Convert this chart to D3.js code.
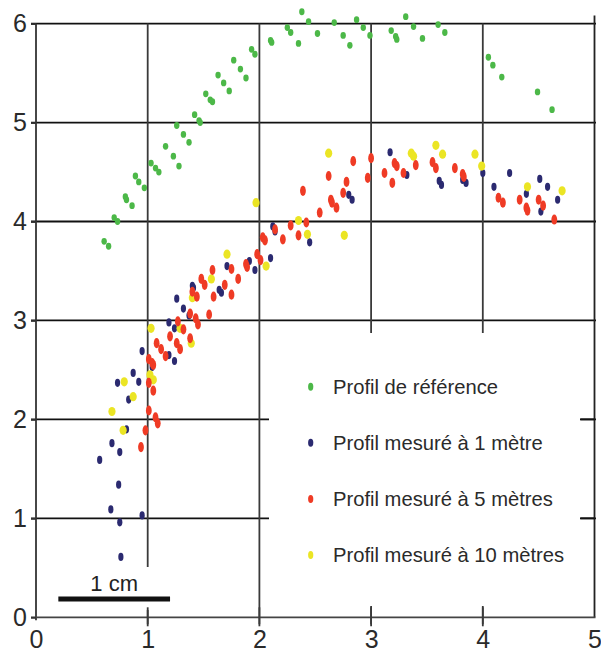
<!DOCTYPE html>
<html>
<head>
<meta charset="utf-8">
<script src="https://cdn.jsdelivr.net/npm/d3@7"></script>
<style>
  html, body { margin: 0; padding: 0; background: #fff; }
  svg { display: block; }
  text { font-family: "Liberation Sans", Arial, sans-serif; }
</style>
</head>
<body>
<svg id="chart" width="601" height="653"></svg>
<script>
// ---------- data ----------
const xTicks = [0, 1, 2, 3, 4, 5];
const yTicks = [0, 1, 2, 3, 4, 5, 6];

const seriesNames = [
  "Profil de référence",
  "Profil mesuré à 1 mètre",
  "Profil mesuré à 5 mètres",
  "Profil mesuré à 10 mètres"
];

const refProfile = [
  [0.61,3.80],[0.65,3.75],[0.70,4.04],[0.73,4.00],[0.80,4.25],[0.81,4.22],[0.86,4.16],
  [0.89,4.46],[0.92,4.40],[0.97,4.34],[1.03,4.59],[1.07,4.54],[1.10,4.50],[1.16,4.76],
  [1.23,4.66],[1.28,4.56],[1.26,4.97],[1.32,4.88],[1.37,4.80],[1.42,5.08],[1.46,5.02],
  [1.47,5.00],[1.52,5.29],[1.56,5.23],[1.58,5.21],[1.63,5.48],[1.68,5.40],[1.73,5.32],
  [1.77,5.63],[1.83,5.54],[1.88,5.45],[1.93,5.74],[1.96,5.69],[2.10,5.83],[2.11,5.81],
  [2.25,5.96],[2.28,5.91],[2.35,5.80],[2.38,6.12],[2.44,6.02],[2.52,5.90],[2.67,6.01],
  [2.75,5.88],[2.81,5.78],[2.87,6.04],[2.93,5.96],[2.99,5.88],[3.18,5.93],[3.22,5.87],
  [3.23,5.84],[3.31,6.07],[3.38,5.97],[3.46,5.85],[3.60,5.99],[3.66,5.91],[4.05,5.66],
  [4.09,5.58],[4.17,5.46],[4.49,5.31],[4.62,5.13]
];

const profile1m = [
  [0.76,0.61],[0.75,0.96],[0.95,1.03],[0.67,1.09],[0.74,1.34],[0.57,1.59],[0.75,1.67],
  [0.68,1.76],[0.81,1.90],[0.83,2.20],[0.73,2.37],[0.92,2.38],[0.87,2.47],[1.04,2.53],
  [0.95,2.69],[1.19,2.65],[1.24,2.59],[1.19,2.98],[1.24,2.92],[1.26,3.22],[1.32,3.12],
  [1.37,3.05],[1.40,3.35],[1.41,3.33],[1.64,3.31],[1.66,3.28],[1.71,3.55],[1.91,3.60],
  [1.96,3.51],[2.10,3.63],[2.12,3.95],[2.14,3.90],[2.45,3.79],[2.80,4.27],[2.83,4.22],
  [3.17,4.70],[3.32,4.47],[3.61,4.41],[3.63,4.37],[3.82,4.42],[3.85,4.39],[4.00,4.49],
  [4.10,4.35],[4.24,4.49],[4.39,4.28],[4.51,4.43],[4.58,4.35],[4.52,4.10],[4.67,4.22]
];

const profile5m = [
  [0.94,1.72],[0.98,1.89],[1.01,2.09],[1.07,2.02],[1.09,1.96],[1.01,2.37],[1.05,2.29],
  [1.01,2.61],[1.04,2.57],[1.05,2.55],[1.08,2.77],[1.12,2.71],[1.16,2.64],[1.20,2.84],
  [1.26,2.77],[1.29,2.71],[1.38,2.82],[1.27,2.99],[1.32,2.91],[1.38,3.07],[1.43,3.02],
  [1.45,2.96],[1.55,3.06],[1.40,3.29],[1.44,3.24],[1.48,3.42],[1.51,3.36],[1.59,3.24],
  [1.58,3.51],[1.69,3.36],[1.75,3.26],[1.75,3.52],[1.81,3.42],[1.88,3.57],[1.89,3.54],
  [1.98,3.67],[2.01,3.61],[2.03,3.84],[2.05,3.81],[2.21,3.82],[2.14,3.92],[2.28,3.96],
  [2.35,3.86],[2.39,4.31],[2.42,3.99],[2.54,4.09],[2.62,4.46],[2.64,4.22],[2.65,4.19],
  [2.69,4.14],[2.75,4.29],[2.78,4.40],[2.84,4.61],[2.97,4.44],[3.00,4.64],[3.12,4.49],
  [3.19,4.39],[3.21,4.59],[3.23,4.56],[3.29,4.49],[3.40,4.57],[3.55,4.60],[3.58,4.54],
  [3.75,4.54],[3.82,4.48],[3.83,4.45],[4.14,4.24],[4.18,4.19],[4.33,4.22],[4.39,4.14],
  [4.40,4.11],[4.50,4.22],[4.54,4.16],[4.64,4.02]
];

const profile10m = [
  [0.68,2.08],[0.78,1.89],[0.79,2.38],[0.87,2.23],[1.03,2.92],[1.02,2.45],[1.05,2.40],
  [1.29,2.92],[1.39,2.77],[1.40,3.23],[1.57,3.42],[1.71,3.67],[1.97,4.19],[2.06,3.55],
  [2.35,4.01],[2.43,3.87],[2.62,4.69],[2.76,3.86],[3.36,4.69],[3.38,4.66],[3.58,4.77],
  [3.64,4.68],[3.93,4.68],[3.99,4.56],[4.40,4.35],[4.71,4.31]
];

const scaleBar = { x0: 0.2, x1: 1.2, y: 0.185, label: "1 cm" };

// ---------- styles ----------
const colors = ["#4cb848", "#2b2a70", "#ef3b25", "#ebe524"];
const radii = [[2.7, 3.4], [2.6, 4.1], [2.9, 5.1], [3.6, 4.6]];

// ---------- drawing ----------
const svg = d3.select("#chart");
const x = d3.scaleLinear().domain([0, 5]).range([36, 594.5]);
const y = d3.scaleLinear().domain([0, 6]).range([617.3, 23.6]);

const g = svg.append("g");

// horizontal grid lines
g.selectAll("line.hgrid").data(yTicks.filter(v => v > 0)).join("line")
  .attr("x1", x(0) - 5).attr("x2", x(5) + 1.5)
  .attr("y1", d => y(d)).attr("y2", d => y(d))
  .attr("stroke", "#111").attr("stroke-width", 1.8);

// vertical grid lines
g.selectAll("line.vgrid").data(xTicks.filter(v => v > 0 && v < 5)).join("line")
  .attr("x1", d => x(d)).attr("x2", d => x(d))
  .attr("y1", y(6)).attr("y2", y(0) + 7)
  .attr("stroke", "#3a3a3a").attr("stroke-width", 1.8);

// white masks (legend area + scale bar area)
g.append("rect").attr("x", 269).attr("y", 333).attr("width", 311).attr("height", 273).attr("fill", "#fff");
g.append("rect").attr("x", 40).attr("y", 567).attr("width", 150).attr("height", 43).attr("fill", "#fff");

// axis frame lines
g.append("line").attr("x1", x(0)).attr("x2", x(0)).attr("y1", y(6)).attr("y2", y(0) + 3)
  .attr("stroke", "#333").attr("stroke-width", 1.8);
g.append("line").attr("x1", x(5)).attr("x2", x(5)).attr("y1", y(6) - 8).attr("y2", y(0))
  .attr("stroke", "#222").attr("stroke-width", 1.8);
g.append("line").attr("x1", x(0) - 5).attr("x2", x(5) + 1).attr("y1", y(0)).attr("y2", y(0))
  .attr("stroke", "#444").attr("stroke-width", 1.8);

// bottom ticks crossing the axis
g.selectAll("line.xt").data(xTicks.filter(v => v > 0 && v < 5)).join("line")
  .attr("x1", d => x(d)).attr("x2", d => x(d))
  .attr("y1", y(0) - 10).attr("y2", y(0) + 9)
  .attr("stroke", "#3a3a3a").attr("stroke-width", 1.8);
// short right-side ticks at y=1,2
g.selectAll("line.rt").data([1, 2]).join("line")
  .attr("x1", x(5) - 14).attr("x2", x(5))
  .attr("y1", d => y(d)).attr("y2", d => y(d))
  .attr("stroke", "#111").attr("stroke-width", 1.8);

// axes (labels)
const xAxis = d3.axisBottom(x).tickValues(xTicks).tickSize(0).tickPadding(13).tickFormat(d3.format("d"));
const yAxis = d3.axisLeft(y).tickValues(yTicks).tickSize(5).tickPadding(4).tickFormat(d3.format("d"));

const gx = svg.append("g").attr("transform", `translate(0,${y(0)})`).call(xAxis);
gx.select(".domain").remove();
gx.selectAll("text").attr("font-size", 25).attr("fill", "#2a2a2a")
  .attr("font-family", "'Liberation Sans', Arial, sans-serif");

const gy = svg.append("g").attr("transform", `translate(${x(0)},0)`).call(yAxis);
gy.select(".domain").remove();
gy.selectAll("line").attr("stroke", "#333").attr("stroke-width", 1.8);
gy.selectAll("text").attr("font-size", 25).attr("fill", "#2a2a2a")
  .attr("font-family", "'Liberation Sans', Arial, sans-serif");

// scale bar
svg.append("line")
  .attr("x1", x(scaleBar.x0)).attr("x2", x(scaleBar.x1))
  .attr("y1", y(scaleBar.y)).attr("y2", y(scaleBar.y))
  .attr("stroke", "#111").attr("stroke-width", 5);
svg.append("text")
  .attr("x", x((scaleBar.x0 + scaleBar.x1) / 2)).attr("y", y(scaleBar.y) - 8)
  .attr("text-anchor", "middle").attr("font-size", 22).attr("fill", "#222")
  .text(scaleBar.label);

// data points (draw order: reference, 1 m, 10 m, 5 m)
const series = [refProfile, profile1m, profile5m, profile10m];
const order = [0, 1, 3, 2];
order.forEach(i => {
  svg.append("g").selectAll("ellipse").data(series[i]).join("ellipse")
    .attr("cx", d => x(d[0])).attr("cy", d => y(d[1]))
    .attr("rx", radii[i][0]).attr("ry", radii[i][1])
    .attr("fill", colors[i]);
});

// legend
const lg = svg.append("g");
seriesNames.forEach((name, i) => {
  const cy = 386.7 + i * 56.1;
  lg.append("ellipse").attr("cx", 310.7).attr("cy", cy).attr("rx", 2.6).attr("ry", 4)
    .attr("fill", colors[i]);
  lg.append("text").attr("x", 333).attr("y", cy).attr("dy", "0.35em")
    .attr("font-size", 20.2).attr("fill", "#2a2a2a").text(name);
});
</script>
</body>
</html>
